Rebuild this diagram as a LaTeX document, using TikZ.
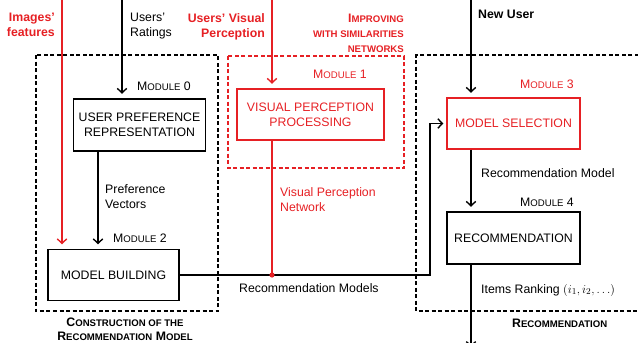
\documentclass[tikz,border=0pt]{standalone}
\usepackage{fontspec}
\setmainfont{Liberation Sans}
\usetikzlibrary{arrows.meta}
\definecolor{accent}{RGB}{230,32,36}
\newcommand\scsize{\fontsize{9.6}{11}\selectfont}
\newcommand\modtag[1]{M{\scsize ODULE} #1}

\begin{document}
\begin{tikzpicture}[x=1pt,y=-1pt,
  every node/.style={font=\fontsize{12.3}{15}\selectfont, inner sep=0pt},
  proc/.style={draw, line width=1.4pt, align=center},
  flow/.style={line width=1.4pt, -{Straight Barb[length=4.5pt,width=9.5pt]}, shorten >=4.5pt},
  wire/.style={line width=1.4pt},
  frame/.style={line width=1.2pt, dash pattern=on 4pt off 2.5pt},
  tag/.style={anchor=base west},
  hint/.style={font=\bfseries\fontsize{12.3}{15}\selectfont}
]
\useasboundingbox (0,0) rectangle (638,343);

% dashed grouping frames
\draw[frame] (36,55) rectangle (218,311);
\draw[frame, accent] (228,56) rectangle (404,168);
\draw[frame] (645,55) -- (416,55) -- (416,311) -- (645,311);

% processing modules
\node[proc, minimum width=132pt, minimum height=52pt] (pref) at (139.5,125) {USER PREFERENCE\\REPRESENTATION};
\node[proc, draw=accent, text=accent, minimum width=147pt, minimum height=51pt] (vpp) at (310.5,114.5) {VISUAL PERCEPTION\\PROCESSING};
\node[proc, draw=accent, text=accent, minimum width=133pt, minimum height=51pt] (sel) at (513.5,123.5) {MODEL SELECTION};
\node[proc, minimum width=131pt, minimum height=51pt] (build) at (113.5,275) {MODEL BUILDING};
\node[proc, minimum width=133pt, minimum height=52pt] (rec) at (513.5,238) {RECOMMENDATION};

% module tags
\node[tag] (m0) at (137,90) {\modtag{0}};
\node[tag, text=accent] (m1) at (313,78) {\modtag{1}};
\node[tag] (m2) at (113,242) {\modtag{2}};
\node[tag, text=accent] (m3) at (520,88) {\modtag{3}};
\node[tag] (m4) at (520,206) {\modtag{4}};

% free ends and junctions
\coordinate (imgsrc) at (62,0);
\coordinate (ratesrc) at (122,0);
\coordinate (vissrc) at (272,0);
\coordinate (newsrc) at (471,0);
\coordinate (sink) at (471,347);
\coordinate (join) at (272,275);
\coordinate (bend) at (430,275);

% inputs
\draw[flow, accent] (imgsrc) -- (imgsrc |- build.north);
\draw[flow] (ratesrc) -- (ratesrc |- pref.north);
\draw[flow, accent] (vissrc) -- (vissrc |- vpp.north);
\draw[flow] (newsrc) -- (newsrc |- sel.north);

% internal flows
\draw[flow] ([xshift=-41.5pt]pref.south) -- ([xshift=-15.5pt]build.north);
\draw[wire, accent] (vpp.south -| join) -- (join);
\draw[flow, shorten >=3pt] (build.east) -- (bend) -- (bend |- sel.west) -- (sel.west);
\fill[accent] (join) circle (2.6pt);
\draw[flow] (sel.south -| newsrc) -- (rec.north -| newsrc);
\draw[flow, shorten >=0pt] (rec.south -| newsrc) -- (sink);

% input labels
\node[hint, text=accent, anchor=north east, align=right] (limg) at (55,13) {Images'\\features};
\node[anchor=north west, align=left] (lrate) at (130,13) {Users'\\Ratings};
\node[hint, text=accent, anchor=north east, align=right] (lvis) at (265,13) {Users' Visual\\Perception};
\node[hint, text=accent, anchor=north east, align=right] (limp) at (404,14) {I{\scsize MPROVING}\\{\scsize WITH SIMILARITIES}\\{\scsize NETWORKS}};
\node[hint, anchor=north west] (lnew) at (478,10) {New User};

% connector labels
\node[anchor=north west, align=left] (lpv) at (105,184) {Preference\\Vectors};
\node[anchor=north west, align=left, text=accent] (lvpn) at (280,187) {Visual Perception\\Network};
\node[tag] (lrms) at (239,292) {Recommendation Models};
\node[tag] (lrm) at (481,177) {Recommendation Model};
\node[tag] (lrank) at (481,293) {Items Ranking $(i_1, i_2, \ldots)$};

% frame captions
\node[hint, anchor=north, align=center, font=\bfseries\fontsize{12.3}{14.5}\selectfont] (lcon) at (125,317.5) {C{\scsize ONSTRUCTION OF THE}\\R{\scsize ECOMMENDATION} M{\scsize ODEL}};
\node[hint, tag] (lrec) at (512,327) {R{\scsize ECOMMENDATION}};
\end{tikzpicture}
\end{document}
